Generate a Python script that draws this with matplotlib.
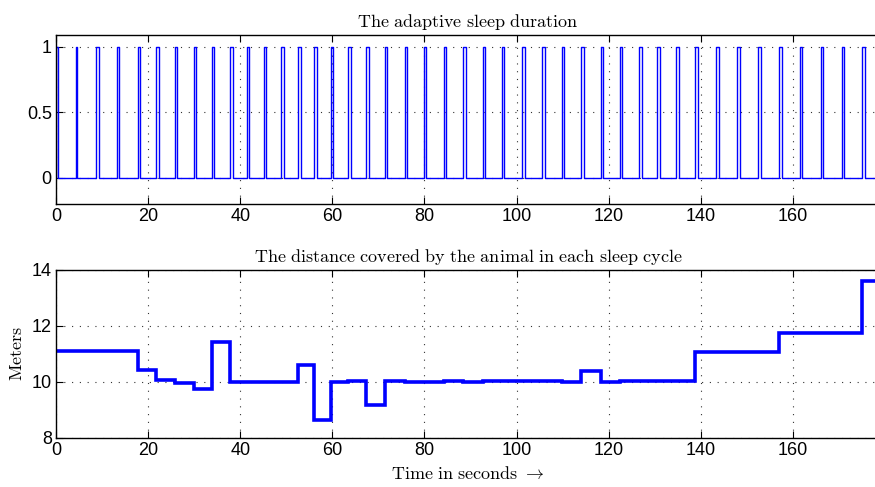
import matplotlib
matplotlib.use("Agg")
import matplotlib.pyplot as plt
import numpy as np

# Start time of each sleep cycle (s) and the width of the "awake" pulse (s)
cycle_starts = [0, 4.4, 8.75, 13.2, 17.7, 21.7, 25.9, 30.0, 33.9, 37.8,
                41.5, 45.2, 48.8, 52.6, 56.1, 59.6, 63.5, 67.4, 71.5, 75.8,
                79.9, 84.2, 88.4, 92.6, 96.9, 101.2, 105.6, 109.9, 114.0, 118.4,
                122.5, 126.6, 130.5, 134.6, 138.8, 143.4, 147.9, 152.5, 157.0, 161.5,
                166.0, 170.6, 175.1]
pulse_widths = [0.36, 0.2, 0.55, 0.5, 0.5, 0.6, 0.4, 0.5, 0.4, 0.6,
                0.5, 0.5, 0.6, 0.6, 0.6, 0.6, 0.6, 0.6, 0.4, 0.5,
                0.4, 0.5, 0.6, 0.5, 0.4, 0.6, 0.5, 0.5, 0.6, 0.4,
                0.4, 0.6, 0.7, 0.7, 0.6, 0.5, 0.6, 0.6, 0.6, 0.5,
                0.5, 0.5, 0.6]
# Distance covered in each sleep cycle (m)
distances = [11.11, 11.11, 11.11, 11.11, 10.43, 10.06, 9.97, 9.76, 11.42, 10.0,
             10.0, 10.0, 10.0, 10.59, 8.63, 10.0, 10.04, 9.18, 10.04, 9.99,
             9.99, 10.04, 9.98, 10.03, 10.03, 10.03, 10.03, 9.98, 10.38, 9.99,
             10.04, 10.04, 10.04, 10.04, 11.06, 11.06, 11.06, 11.06, 11.75, 11.75,
             11.75, 11.75, 13.61]
x_ticks = [0, 20, 40, 60, 80, 100, 120, 140, 160]
top_yticks = [0, 0.5, 1]
top_yticklabels = ["0", "0.5", "1"]
bot_yticks = [8, 10, 12, 14]
t_end = 178.9

plt.rcParams['font.family'] = ['Liberation Sans', 'DejaVu Sans']
plt.rcParams['mathtext.fontset'] = 'cm'

fig = plt.figure(figsize=(8.75, 4.87), dpi=100)
W, H = 875, 487
left_px, right_px = 56, 880


def make_ax(top_px, bot_px):
    return fig.add_axes([left_px / W, 1 - bot_px / H, (right_px - left_px) / W, (bot_px - top_px) / H])


ax1 = make_ax(35, 204)
ax2 = make_ax(270, 437.7)

# ---- top: square wave
ts, vs = [0.0], [0.0]
for s, w in zip(cycle_starts, pulse_widths):
    ts += [s, s, s + w, s + w]
    vs += [0, 1, 1, 0]
ts.append(t_end)
vs.append(0)
ax1.plot(ts, vs, color=(0, 0, 1), lw=1.0)
ax1.set_ylim(-0.2, 1.09)
ax1.set_yticks(top_yticks)
ax1.set_yticklabels(top_yticklabels)
ax1.set_title(r'$\mathrm{The\ adaptive\ sleep\ duration}$', fontsize=13, pad=6)

# ---- bottom: distance per cycle
edges = list(cycle_starts) + [t_end]
xs, ys = [], []
for i, d in enumerate(distances):
    xs += [edges[i], edges[i + 1]]
    ys += [d, d]
ax2.plot(xs, ys, color=(0, 0, 1), lw=2.6, solid_joinstyle='miter')
ax2.set_ylim(8, 14)
ax2.set_yticks(bot_yticks)
ax2.set_title(r'$\mathrm{The\ distance\ covered\ by\ the\ animal\ in\ each\ sleep\ cycle}$',
              fontsize=13, pad=6)
ax2.set_ylabel(r'$\mathrm{Meters}$', fontsize=13, labelpad=4)
ax2.set_xlabel(r'$\mathrm{Time\ in\ seconds}\ \rightarrow$', fontsize=13, labelpad=5)

for ax in (ax1, ax2):
    ax.set_xlim(0, t_end)
    ax.set_xticks(x_ticks)
    ax.tick_params(direction='in', length=5, width=0.8, labelsize=13,
                   top=True, right=False, pad=3)
    ax.grid(True, linestyle=(0, (1, 6)), color='0.2', linewidth=0.8)
    for sp in ax.spines.values():
        sp.set_linewidth(1.0)
    ax.spines['right'].set_visible(False)

fig.savefig('out.png', dpi=100)
